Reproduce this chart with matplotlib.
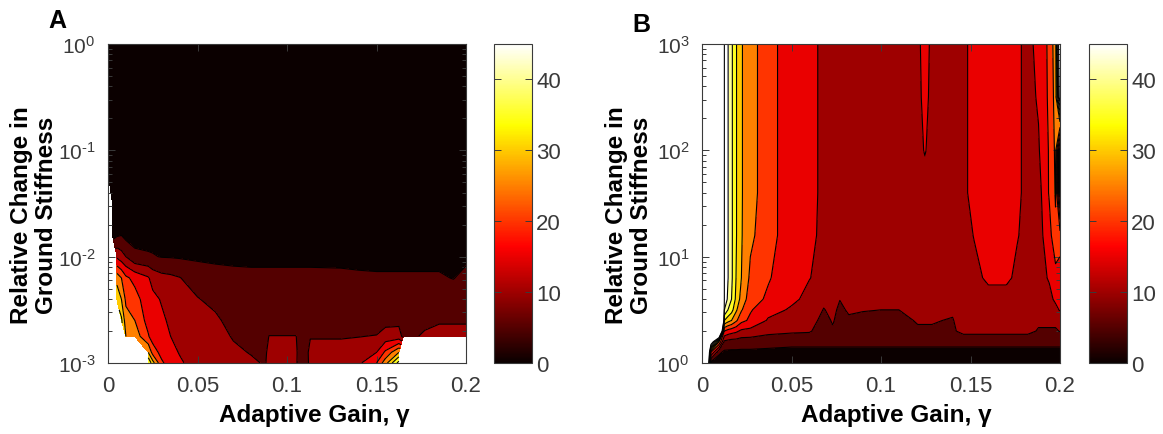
import numpy as np
import matplotlib
matplotlib.use("Agg")
import matplotlib.pyplot as plt
from matplotlib.cm import ScalarMappable
from matplotlib.colors import Normalize

nan = np.nan

# Panel A grid: adaptive gain (columns) and log10 of relative stiffness change (rows)
gain_a = [0.0, 0.0025, 0.005, 0.0075, 0.01, 0.015, 0.0225, 0.025, 0.03, 0.035,
          0.04, 0.05, 0.06, 0.07, 0.08, 0.0875, 0.09, 0.1, 0.105, 0.109,
          0.113, 0.13, 0.14, 0.15, 0.155, 0.1625, 0.165, 0.177, 0.185, 0.193, 0.2]
logk_a = [-3.0, -2.9, -2.75, -2.6, -2.4, -2.2, -2.0, -1.8, -1.5, -1.2, 0.0]
# one list per gain value, bottom row first
z_a_cols = [
    [nan, nan, nan, nan, nan, nan, nan, nan, nan, 2, 2],
    [nan, nan, nan, nan, nan, nan, nan, 3, 2.5, 2, 2],
    [nan, nan, nan, nan, 34, 28, 14, 4.5, 2.5, 2, 2],
    [nan, nan, nan, 36, 30, 25, 12, 5, 2.5, 2, 2],
    [nan, nan, 30, 27, 24, 21, 10, 3.5, 2.5, 2, 2],
    [nan, nan, 28, 25, 22, 18.5, 6, 3.5, 2.5, 2, 2],
    [40, 30, 20.5, 18, 17, 15.5, 5.5, 3.5, 2.5, 2, 2],
    [32, 23, 17.5, 17, 16.5, 13, 5.3, 3.5, 2.5, 2, 2],
    [21, 18, 16.5, 16, 14.5, 11.5, 4.8, 3.5, 2.5, 2, 2],
    [17, 16, 15, 14, 12.5, 11, 4.7, 3.5, 2.5, 2, 2],
    [15.5, 14.8, 13.5, 12.5, 11.5, 10.2, 4.5, 3.5, 2.5, 2, 2],
    [13.5, 13, 12.5, 12, 10.3, 7.5, 4.3, 3.3, 2.5, 2, 2],
    [13, 12.5, 12, 11, 8.5, 6.5, 4.2, 3.3, 2.5, 2, 2],
    [12, 11, 9.6, 8, 7, 6, 4.2, 3.3, 2.5, 2, 2],
    [10.8, 9.7, 8.5, 7.5, 6.5, 5.8, 4.2, 3.3, 2.5, 2, 2],
    [9.6, 9.2, 8.8, 7.8, 6.5, 5.8, 4.2, 3.3, 2.5, 2, 2],
    [11, 11, 10.1, 8, 6.5, 5.8, 4.2, 3.3, 2.5, 2, 2],
    [11, 11, 10.1, 8, 6.5, 5.8, 4.2, 3.3, 2.5, 2, 2],
    [10.5, 10.5, 10.1, 8, 6.5, 5.8, 4.2, 3.3, 2.5, 2, 2],
    [7, 7.5, 8, 7.5, 6.5, 5.8, 4.2, 3.3, 2.5, 2, 2],
    [11, 11, 9.8, 8, 6.5, 5.8, 4.2, 3.3, 2.5, 2, 2],
    [11.5, 11, 9.8, 8, 6.5, 5.6, 4.3, 3.3, 2.5, 2, 2],
    [14, 12, 9.9, 8, 6.5, 5.4, 4.3, 3.3, 2.5, 2, 2],
    [20, 15, 10.2, 8, 6.5, 5.3, 4.3, 3.3, 2.5, 2, 2],
    [28, 21, 12, 8.5, 6.5, 5.3, 4.3, 3.3, 2.5, 2, 2],
    [42, 30, 12, 8.8, 6.5, 5.3, 4.3, 3.3, 2.5, 2, 2],
    [nan, nan, 8.8, 7.5, 6.5, 5.3, 4.3, 3.3, 2.5, 2, 2],
    [nan, nan, 10.5, 9.2, 7, 5.3, 4.3, 3.3, 2.5, 2, 2],
    [nan, nan, 11, 9.7, 7, 5.3, 4.3, 3.3, 2.5, 2, 2],
    [nan, nan, 11, 9.7, 6.5, 4.9, 4.3, 3.3, 2.5, 2, 2],
    [nan, nan, 11, 9.7, 7, 5.8, 4.4, 3.3, 2.5, 2, 2],
]

# Panel B grid
gain_b = [0.0, 0.005, 0.0095, 0.0125, 0.0145, 0.0165, 0.019, 0.022, 0.027, 0.037,
          0.05, 0.06, 0.068, 0.073, 0.077, 0.082, 0.09, 0.1, 0.11, 0.1205,
          0.1245, 0.1285, 0.14, 0.146, 0.152, 0.16, 0.17, 0.176, 0.182, 0.188,
          0.194, 0.1975, 0.2]
logk_b = [0.0, 0.1, 0.2, 0.3, 0.4, 0.5, 0.6, 0.8, 1.2, 1.6, 2.0, 2.5, 3.0]
z_b_cols = [
    [200, 200, 200, 200, 200, 200, 200, 200, 200, 200, 200, 200, 200],
    [3, 20, 60, 200, 200, 200, 200, 200, 200, 200, 200, 200, 200],
    [2, 6, 25, 90, 200, 200, 200, 200, 200, 200, 200, 200, 200],
    [1.5, 4, 9, 20, 35, 45, 49, 49.5, 49.5, 49.5, 49.5, 49.5, 49.5],
    [1.5, 4, 8.5, 18, 32, 40, 44, 45.2, 45.2, 45.2, 45.2, 45.2, 45.2],
    [1.5, 4, 8, 17, 30, 37, 40, 41, 41, 41, 41, 41, 41],
    [1, 4, 8, 16, 26, 31, 34, 35, 35.5, 35.5, 35.5, 35.5, 35.5],
    [1, 4, 7.5, 14, 21.5, 25.5, 28, 30, 30.4, 30.4, 30.4, 30.4, 30.4],
    [1, 4, 7.5, 13.5, 19, 20.5, 22.5, 24, 26, 27, 27, 27, 27],
    [1, 3.8, 7, 11.5, 14.5, 16.5, 19, 20.5, 22, 22, 22, 22, 22],
    [1, 3.5, 6.5, 10.8, 12.5, 14.5, 15.8, 16.5, 17, 17, 17, 17, 17],
    [1, 3.5, 6.5, 10.5, 12, 13, 14, 15.1, 15.5, 15.7, 15.7, 15.7, 15.7],
    [1, 3.5, 6.5, 7.5, 8.5, 9.8, 11, 14, 14.5, 14.5, 14.5, 14.5, 14.5],
    [1, 3.5, 6.5, 9.5, 10.4, 11, 12, 13.5, 13.5, 13.5, 13.5, 13.5, 13.5],
    [1, 3.5, 6.5, 7.5, 8.5, 9.2, 10.1, 13, 13, 13, 13, 13, 13],
    [1, 3.5, 6.5, 8, 9.4, 10.5, 11.5, 12.5, 12.5, 12.5, 12.5, 12.5, 12.5],
    [1, 3.5, 6.5, 8, 9, 10.2, 11, 12, 12.5, 12.5, 12.5, 12.5, 12.5],
    [1, 3.5, 6.5, 8, 9, 10, 11, 12, 12.5, 12.5, 12.5, 12.5, 12.5],
    [1, 3.5, 6.5, 8, 9, 10, 11, 12, 12.5, 12.5, 12.5, 12.5, 12.5],
    [1, 3.5, 6.5, 9.5, 10.3, 11, 11.5, 12, 12.5, 13, 13.5, 13.5, 13.5],
    [1, 3.5, 6.5, 9.5, 10.3, 11, 11.5, 12, 12.5, 13, 15.3, 16.5, 17.5],
    [1, 3.5, 6.5, 9.5, 10.3, 11, 11.5, 12, 12.5, 13, 13.5, 13.5, 13.5],
    [1, 3.5, 6.5, 9.2, 9.7, 10.7, 11.5, 12, 12.5, 13, 13, 13, 13],
    [1, 3.5, 6.5, 11.5, 12.5, 13, 13, 13, 13, 14, 14, 14, 14],
    [1, 3.5, 6.5, 11.5, 12.5, 13, 13, 13.5, 15.2, 16.5, 16.5, 16.5, 16.5],
    [1, 3.5, 6.5, 11.5, 12.5, 13, 13, 16, 17, 17, 17, 17, 17],
    [1, 3.5, 6.5, 11.5, 12.5, 13, 13, 16, 17, 17, 17, 17, 17],
    [1, 3.5, 6.5, 11.5, 12.5, 13, 13, 14, 15.3, 16, 16, 16, 16],
    [1, 3.5, 6.5, 11.5, 12.5, 13, 13, 13, 13.5, 13.5, 13.5, 13.5, 13.5],
    [1, 3.5, 6.5, 9.5, 11, 12, 12.5, 13, 13, 13, 14.5, 15.5, 16.5],
    [1, 3.5, 6.5, 9.5, 11, 12.5, 13.5, 15.5, 18, 20.5, 20.5, 21, 21],
    [1, 3.5, 6.5, 9.5, 11, 13.5, 16, 18, 24, 25.5, 26, 27, 28],
    [1, 3.5, 6.5, 10.2, 12, 15.5, 16, 18, 22, 3, 2, 55, 60],
]

levels = list(range(0, 55, 5))
cbar_ticks = [0, 10, 20, 30, 40]
gain_ticks = [0, 0.05, 0.1, 0.15, 0.2]
gain_ticklabels = ["0", "0.05", "0.1", "0.15", "0.2"]

plt.rcParams["font.family"] = ["Liberation Sans", "DejaVu Sans"]
plt.rcParams["mathtext.fontset"] = "custom"
plt.rcParams["mathtext.rm"] = "Liberation Sans"

hot = plt.get_cmap("hot")
fill_colors = [hot(min(l, 45) / 45) for l in levels[:-1]] + ["white"]
grey = "#3a3a3a"


def exp_label(e):
    if e < 0:
        return r"$\mathregular{10^{\text{-}%d}}$" % (-e)
    return r"$\mathregular{10^{%d}}$" % e


def draw_panel(ax, cax, gain, logk, zcols, exps):
    z = np.array(zcols, dtype=float).T
    ax.contourf(gain, logk, z, levels=levels, colors=fill_colors, extend="max")
    ax.contour(gain, logk, z, levels=levels[1:], colors="k", linewidths=0.8)
    ax.set_xlim(0, 0.2)
    ax.set_ylim(exps[0], exps[-1])
    ax.set_xticks(gain_ticks)
    ax.set_xticklabels(gain_ticklabels)
    ax.set_yticks(exps)
    ax.set_yticklabels([exp_label(e) for e in exps])
    ax.set_yticks([e + np.log10(m) for e in exps[:-1] for m in range(2, 10)], minor=True)
    ax.tick_params(which="both", direction="in", top=True, right=True,
                   colors=grey, width=0.7)
    ax.tick_params(which="major", length=5)
    ax.tick_params(which="minor", length=3)
    ax.tick_params(axis="y", pad=9, labelsize=15)
    ax.tick_params(axis="x", pad=9, labelsize=16)
    for s in ax.spines.values():
        s.set_color(grey)
        s.set_linewidth(0.8)

    sm = ScalarMappable(norm=Normalize(0, 45), cmap=hot)
    cb = plt.colorbar(sm, cax=cax, ticks=cbar_ticks)
    cb.outline.set_edgecolor(grey)
    cb.outline.set_linewidth(0.8)
    cax.tick_params(direction="in", left=True, right=True, length=5,
                    colors=grey, labelsize=16, width=0.7, pad=3)


fig = plt.figure(figsize=(11.63, 4.35), dpi=100)
bot = 1 - 364 / 435
hgt = 319 / 435
ax_a = fig.add_axes([108 / 1163, bot, 358 / 1163, hgt])
cax_a = fig.add_axes([494 / 1163, bot, 38 / 1163, hgt])
ax_b = fig.add_axes([702 / 1163, bot, 358 / 1163, hgt])
cax_b = fig.add_axes([1089 / 1163, bot, 38 / 1163, hgt])

draw_panel(ax_a, cax_a, gain_a, logk_a, z_a_cols, [-3, -2, -1, 0])
draw_panel(ax_b, cax_b, gain_b, logk_b, z_b_cols, [0, 1, 2, 3])

lab = dict(fontsize=17.5, fontweight="bold", color="black")
fig.text(34 / 1163, 1 - 215 / 435, "Relative Change in\nGround Stiffness",
         rotation=90, ha="center", va="center", linespacing=1.1, **lab)
fig.text(629 / 1163, 1 - 215 / 435, "Relative Change in\nGround Stiffness",
         rotation=90, ha="center", va="center", linespacing=1.1, **lab)
fig.text(314 / 1163, 1 - 422 / 435, "Adaptive Gain, γ", ha="center", va="baseline", **lab)
fig.text(896 / 1163, 1 - 422 / 435, "Adaptive Gain, γ", ha="center", va="baseline", **lab)
fig.text(48 / 1163, 1 - 28 / 435, "A", ha="left", va="baseline", fontsize=18, fontweight="bold")
fig.text(632 / 1163, 1 - 32 / 435, "B", ha="left", va="baseline", fontsize=18, fontweight="bold")

fig.savefig("out.png", dpi=100)
